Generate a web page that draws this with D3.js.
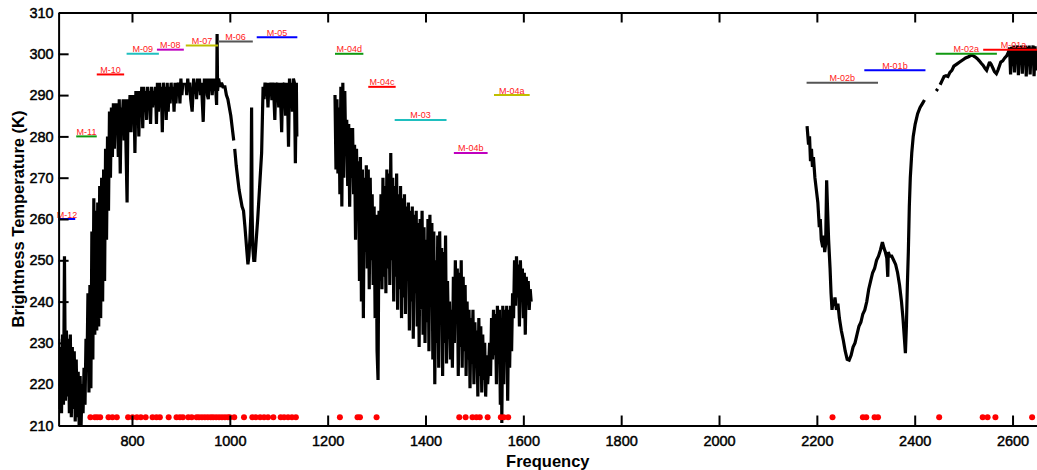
<!DOCTYPE html>
<html>
<head>
<meta charset="utf-8">
<script src="https://cdn.jsdelivr.net/npm/d3@7"></script>
<style>
  body { margin: 0; background: #fff; }
  svg { display: block; }
  text { font-family: "Liberation Sans", Arial, Helvetica, sans-serif; }
</style>
</head>
<body>
<svg id="chart" width="1037" height="470"></svg>
<script>
// Brightness-temperature spectrum, three measured stretches: [frequency, K]; null breaks the trace.
const specA = [
  [650,231],[652,214],[654,229],[656,213],[658,232],[660,215],[662,251],[664,216],[666,233],[668,217],
  [670,231],[672,213],[674,232],[676,212],[678,229],[680,214],[682,228],[684,211],[686,226],[688,212],
  [690,223],[692,210],[694,222],[696,210],[698,220],[700,213],[702,224],[704,215],[706,231],[708,224],
  [710,242],[712,218],[714,244],[716,219],[718,257],[720,226],[722,265],[724,232],[726,262],[728,233],
  [730,264],[732,234],[734,268],[736,236],[738,270],[740,240],[742,272],[744,245],[746,277],[748,255],
  [750,280],[752,262],[754,286],[756,270],[758,287],[760,275],[762,288],[764,277],[766,288],[768,282],
  [770,288],[772,275],[774,289],[776,271],[778,287],[780,283],[782,289],[784,279],[786,289],[788,276],
  [790,264],[792,289],[794,284],[796,290],[798,281],[800,290],[802,284],[804,290],[806,276],[808,291],
  [810,285],[812,291],[814,280],[816,291],[818,286],[820,292],[822,282],[824,292],[826,287],[828,291],
  [830,284],[832,292],[834,288],[836,291],[838,283],[840,292],[842,287],[844,291],[846,289],[848,292],
  [850,283],[852,293],[854,286],[856,293],[858,287],[860,292],[862,281],[864,293],[866,289],[868,292],
  [870,284],[872,293],[874,286],[876,292],[878,288],[880,293],[882,289],[884,292],[886,286],[888,293],
  [890,288],[892,293],[894,290],[896,293],[898,288],[900,294],[902,290],[904,293],null,
  [910,293],[912,290],[914,294],[916,291],[918,293],[920,289],[923,286],[926,294],[928,291],[930,293],
  [932,289],[934,294],[936,291],[938,294],[940,290],[942,293],[945.6,283.5],[948,294],[950,291],[952,294],
  [954,290],[956,289],[958,294],[960,291],[962,294],[964,290],[966,294],[968,291],[970,294],[973,287.6],
  [974,304.8],[975,291],[977,294],[980,292],[983,293],[986,292],[990,292],[993,290],[996,289],[999,287],
  [1002,285],[1005,282],[1008,279],null,
  [1010,277],[1013,273],[1016,270],[1019,267],[1022,265],[1025,263],[1028,262],[1031,258],[1033,255],
  [1035,252],[1037,249],[1039,251],[1041,255],[1043,261],[1044.5,287],[1045.5,262],[1047,253],[1049,250],
  [1051,250],[1054,255],[1057,260],[1060,266],[1063,272],[1065,276],[1068,292],[1070,289],[1072,293],
  [1074,290],[1076,293],[1078,287],[1080,293],[1082,290],[1084,293],[1086,288.8],[1088,293],[1090,290],
  [1092,284],[1094,293],[1096,289],[1098,293],[1100,287],[1102,293],[1104,288],[1106,281],[1108,293],
  [1110,289],[1112,293],[1114,285],[1116,293],[1118,290],[1120,277.5],[1122,294],[1124,288],[1126,293],
  [1128,286],[1130,294],[1132,293],[1134,273.5],[1136,293],[1137,280]
];

const specB = [
  [1215,290],[1217,272],[1219,289],[1221,271],[1223,287],[1225,266],[1227,292],[1229,263],[1231,293],
  [1233,270],[1235,291],[1237,276],[1239,284],[1241,268],[1243,283],[1245,263],[1247,282],[1249,270],
  [1251,282],[1253,266],[1255,278],[1257,255],[1259,277],[1261,262],[1263,274],[1265,245],[1267,275],
  [1269,240],[1271,272],[1273,236],[1275,270],[1277,252],[1279,273],[1281,248],[1283,272],[1285,243],
  [1287,270],[1289,250],[1291,266],[1293,244],[1295,263],[1297,236],[1299,261],[1301,228],[1303,221],
  [1305,262],[1307,245],[1309,266],[1311,243],[1313,270],[1315,246],[1317,268],[1319,242],[1321,272],
  [1323,248],[1325,271],[1327,244],[1329,276],[1331,250],[1333,270],[1335,240],[1337,268],[1339,246],
  [1341,271],[1343,238],[1345,266],[1347,243],[1349,268],[1351,236],[1353,265],[1355,241],[1357,266],
  [1359,237],[1361,263],[1363,245],[1365,264],[1367,233],[1369,262],[1371,240],[1373,263],[1375,231],
  [1377,261],[1379,242],[1381,262],[1383,234],[1385,259],[1387,229],[1389,260],[1391,238],[1393,262],
  [1395,232],[1397,258],[1399,230],[1401,255],[1403,235],[1405,260],[1407,228],[1409,261],[1411,240],
  [1413,259],[1415,226],[1417,257],[1419,220],[1421,250],[1423,230],[1425,256],[1427,224],[1429,257],
  [1431,236],[1433,253],[1435,222],[1437,252],[1439,230],[1441,256],[1443,225],[1445,245],[1447,231],
  [1449,240],[1451,226],[1453,238],[1455,224],[1457,246],[1459,230],[1461,250],[1463,235],[1465,248],
  [1467,222],[1469,247],[1471,229],[1473,250],[1475,224],[1477,246],[1479,228],[1481,244],[1483,222],
  [1485,240],[1487,226],[1489,238],[1491,219],[1493,236],[1495,225],[1497,238],[1499,220],[1501,235],
  [1503,224],[1505,233],[1507,217],[1509,236],[1511,222],[1513,234],[1515,218],[1517,232],[1519,221],
  [1521,230],[1523,217],[1525,227],[1527,220],[1529,224],[1531,230],[1533,222],[1535,236],[1537,226],
  [1539,238],[1541,227],[1543,237],[1545,220],[1547,239],[1549,225],[1551,238],[1553,215],[1555,236],
  [1556,210.6],[1558,239],[1560,220],[1562,238],[1564,226],[1566,239],[1568,216],[1570,238],[1572,224],
  [1574,239],[1576,228],[1578,242],[1580,236],[1582,250],[1584,239],[1586,251],[1588,241],[1590,249],
  [1592,234],[1594,250],[1596,240],[1598,248],[1600,236],[1602,247],[1604,232],[1606,246],[1608,240],
  [1610,245],[1612,238],[1614,243],[1616,240]
];

const specC = [
  [2180,282.5],[2183,278],[2185,280],[2187,274],[2189,277],[2191,272.6],[2193,275],[2196,270],[2199,267],
  [2202,264],[2205,258],[2207,260],[2209,255],[2212,253.2],[2214,256],[2216,252],[2218,254],[2220,269.4],
  [2222,262],[2224,255],[2227,248],[2229,242],[2231,238],[2233,240],[2235,239],[2237,241],[2240,238],
  [2243,239.5],[2246,236],[2250,233],[2254,230.7],[2258,228],[2262,226],[2266,225.8],[2270,227],[2274,229],
  [2278,230],[2282,232],[2286,234],[2290,235],[2294,237],[2298,238],[2302,240],[2306,243],[2310,245],
  [2314,247],[2318,248],[2322,250],[2326,251],[2330,252.5],[2334,254.4],[2337,253],[2340,252],[2343,250.5],
  [2345,246],[2346,252],[2349,251],[2353,251],[2357,250],[2361,249],[2365,247],[2369,244],[2373,240],
  [2376,236],[2379,231],[2381,227.5],[2383,234],[2385,244],[2387,252],[2389,263],[2391,270],[2394,276],
  [2397,280],[2401,283],[2406,285.5],[2411,287],[2416,288],[2420,288.8],null,
  [2444,291],[2447,291.5],null,
  [2452,292.5],[2456,293.5],[2460,294.5],[2464,294.7],[2468,294.5],[2472,295.5],[2476,296],[2480,297],
  [2486,297.5],[2492,298],[2498,298.5],[2504,299],[2510,299.3],[2516,299.7],[2520,299.5],[2524,299.2],
  [2528,298.8],[2532,298.3],[2536,297.7],[2540,297.2],[2544,296.4],[2547,296],[2550,297],[2553,298],
  [2556,297.5],[2560,296.5],[2563,295.7],[2567,295.2],[2570,296],[2573,297],[2576,298],[2580,298.3],
  [2584,299],[2588,299.5],[2592,300.5],[2594,301.5],[2596,295],[2598,301.7],[2600,297],[2602,302],
  [2604,295.5],[2606,301.5],[2608,300],[2610,302],[2612,294.8],[2614,301.8],[2616,298],[2618,302],
  [2620,295.2],[2622,301.5],[2624,299],[2626,302],[2628,294.5],[2630,301.7],[2632,297],[2634,302],
  [2636,295],[2638,301.5],[2640,300],[2642,302],[2644,294.6],[2646,301.8],[2648,296],[2650,301]
];

// Instrument bands: name, spectral extent and the level their marker sits at
const bandNames = ["M-12","M-11","M-10","M-09","M-08","M-07","M-06","M-05","M-04d","M-04c","M-03","M-04a","M-04b","M-02b","M-01b","M-02a","M-01a"];
const bandStart = [650, 686, 728, 789, 851, 910, 976, 1055, 1215, 1283, 1337, 1540, 1458, 2179, 2297, 2443, 2540];
const bandEnd   = [684, 728, 784, 855, 906, 976, 1047, 1138, 1273, 1339, 1443, 1613, 1527, 2325, 2422, 2568, 2664];
const bandLevel = [260, 280, 295, 300, 301, 302, 303, 304, 300, 292, 284, 290, 276, 293, 296, 300, 301];

// Selected channel positions, marked along the bottom
const dotFreq = [715,724,729,735,752,760,769,792,801,810,818,828,842,850,857,875,891,898,904,915,922,
  932,937,943,949,955,961,966,972,978,984,990,996,1000,1009,1029,1046,1053,1062,1070,1078,1089,
  1104,1111,1119,1127,1135,1225,1261,1266,1300,1469,1482,1496,1504,1511,1527,1554,1560,1569,
  2232,2294,2301,2318,2325,2450,2539,2549,2565,2640];
const dotLevel = 212;

const xTicks = [800,1000,1200,1400,1600,1800,2000,2200,2400,2600];
const yTicks = [210,220,230,240,250,260,270,280,290,300,310];

// Styling for the band markers
const bandColor = {
  "M-12":"#0000ff","M-11":"#119911","M-10":"#ff0000","M-09":"#1fbfbf","M-08":"#bf00bf","M-07":"#bfbf00",
  "M-06":"#555555","M-05":"#0000ff","M-04d":"#119911","M-04c":"#ff0000","M-03":"#1fbfbf","M-04a":"#bfbf00",
  "M-04b":"#bf00bf","M-02b":"#555555","M-01b":"#0000ff","M-02a":"#119911","M-01a":"#ff0000"
};

const svg = d3.select("#chart");
const plotLeft = 58.6, plotRight = 1037, plotTop = 12.5, plotBottom = 425.5;

const x = d3.scaleLinear().domain([650, 2650]).range([plotLeft, plotRight]);
const y = d3.scaleLinear().domain([210, 310]).range([plotBottom, plotTop]);

svg.append("defs").append("clipPath").attr("id", "plotclip")
  .append("rect").attr("x", plotLeft).attr("y", plotTop)
  .attr("width", plotRight - plotLeft).attr("height", plotBottom - plotTop);

const plot = svg.append("g").attr("clip-path", "url(#plotclip)");

const line = d3.line()
  .defined(d => d !== null)
  .x(d => x(d[0]))
  .y(d => y(d[1]));

[specA, specB, specC].forEach(seg => {
  plot.append("path")
    .datum(seg)
    .attr("d", line)
    .attr("fill", "none")
    .attr("stroke", "#000")
    .attr("stroke-width", 3.2)
    .attr("stroke-linejoin", "miter")
    .attr("stroke-miterlimit", 2);
});

// Band markers
const bands = bandNames.map((n, i) => ({ name: n, a: bandStart[i], b: bandEnd[i], v: bandLevel[i] }));
svg.append("g").selectAll("line").data(bands).join("line")
  .attr("x1", d => x(d.a)).attr("x2", d => Math.min(x(d.b), plotRight))
  .attr("y1", d => y(d.v)).attr("y2", d => y(d.v))
  .attr("stroke", d => bandColor[d.name])
  .attr("stroke-width", 2);

svg.append("g").selectAll("text").data(bands).join("text")
  .attr("x", d => x((d.a + d.b) / 2))
  .attr("y", d => y(d.v) - 1.5)
  .attr("text-anchor", "middle")
  .attr("font-size", 9)
  .attr("fill", "#ff2020")
  .text(d => d.name);

// Channel dots
plot.append("g").selectAll("circle").data(dotFreq).join("circle")
  .attr("cx", d => x(d)).attr("cy", y(dotLevel)).attr("r", 3)
  .attr("fill", "#ff0000");

// Axes
const styleAxis = g => {
  g.select(".domain").attr("stroke", "#000").attr("stroke-width", 2);
  g.selectAll(".tick line").attr("stroke", "#000").attr("stroke-width", 2);
  g.selectAll(".tick text").attr("font-size", 14.5).attr("fill", "#000")
    .attr("stroke", "#000").attr("stroke-width", 0.45)
    .attr("font-family", "'Liberation Sans', Arial, sans-serif");
};

svg.append("g").attr("transform", `translate(0,${plotBottom})`)
  .call(d3.axisBottom(x).tickValues(xTicks).tickFormat(d3.format("d"))
    .tickSize(-10).tickSizeOuter(0).tickPadding(10))
  .call(styleAxis);

svg.append("g").attr("transform", `translate(0,${plotTop})`)
  .call(d3.axisTop(x).tickValues(xTicks).tickSize(-10).tickSizeOuter(0).tickFormat(""))
  .call(styleAxis);

svg.append("g").attr("transform", `translate(${plotLeft},0)`)
  .call(d3.axisLeft(y).tickValues(yTicks).tickFormat(d3.format("d"))
    .tickSize(-10).tickSizeOuter(0).tickPadding(5))
  .call(styleAxis);

// Axis titles
svg.append("text")
  .attr("x", (plotLeft + plotRight) / 2).attr("y", 467)
  .attr("text-anchor", "middle")
  .attr("font-size", 16.5).attr("font-weight", "bold")
  .text("Frequency");

svg.append("text")
  .attr("transform", `translate(24,${(plotTop + plotBottom) / 2}) rotate(-90)`)
  .attr("text-anchor", "middle")
  .attr("font-size", 16.5).attr("font-weight", "bold")
  .text("Brightness Temperature (K)");
</script>
</body>
</html>
